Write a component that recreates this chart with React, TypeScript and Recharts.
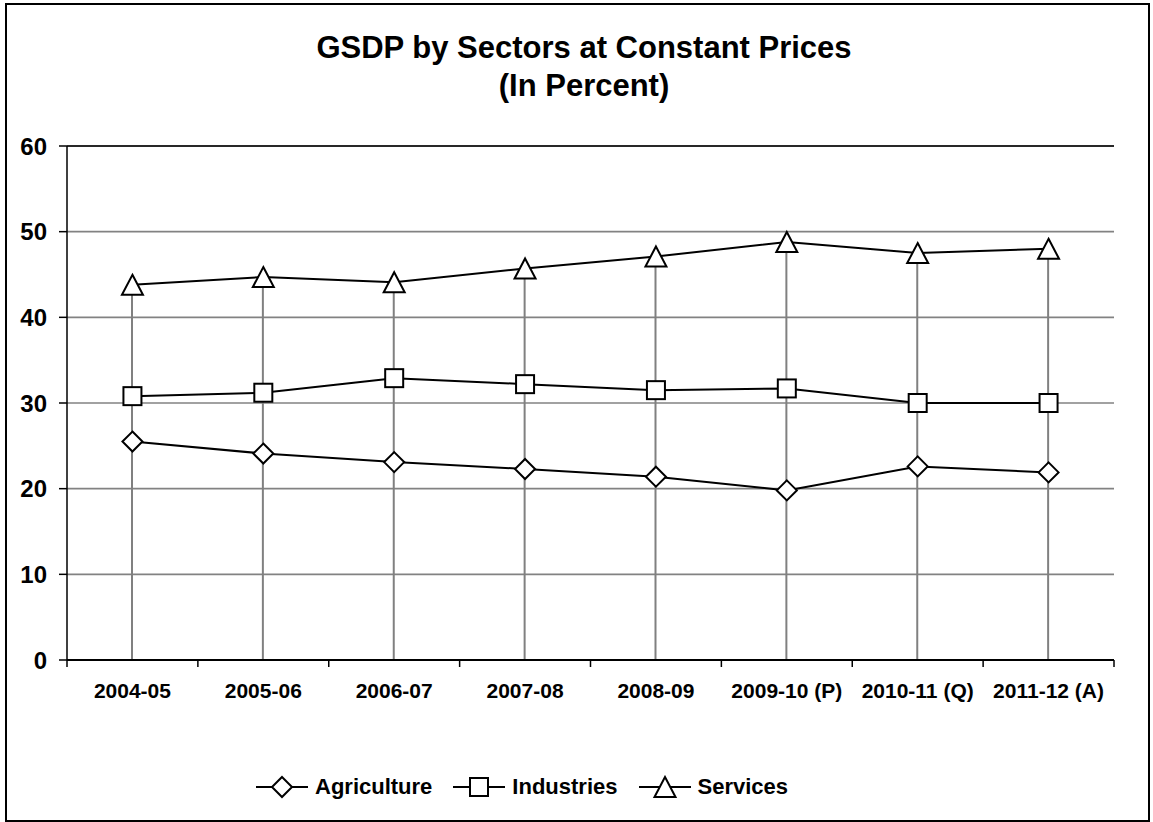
import React from "react"
import { ComposedChart, Line, Bar, XAxis, YAxis, CartesianGrid, ReferenceLine, Legend } from "recharts"

const categories = ["2004-05", "2005-06", "2006-07", "2007-08", "2008-09", "2009-10 (P)", "2010-11 (Q)", "2011-12 (A)"]
const agriculture = [25.5, 24.1, 23.1, 22.3, 21.4, 19.8, 22.6, 21.9]
const industries = [30.8, 31.2, 32.9, 32.2, 31.5, 31.7, 30.0, 30.0]
const services = [43.8, 44.7, 44.1, 45.7, 47.1, 48.8, 47.5, 48.0]
const yTicks = [0, 10, 20, 30, 40, 50, 60]
const seriesNames = ["Agriculture", "Industries", "Services"]

const FONT = '"Liberation Sans", Arial, sans-serif'
const HALF_BAND = (1114 - 67) / categories.length / 2

const data = categories.map((name, i) => ({
  name,
  agriculture: agriculture[i],
  industries: industries[i],
  services: services[i],
  drop: services[i],
}))

type Shape = "diamond" | "square" | "triangle"

function marker(shape: Shape, cx: number, cy: number, key?: any) {
  const common = { fill: "#fff", stroke: "#000", strokeWidth: 2, key }
  if (shape === "diamond")
    return <path {...common} d={`M${cx},${cy - 10}L${cx + 10},${cy}L${cx},${cy + 10}L${cx - 10},${cy}Z`} />
  if (shape === "square") return <rect {...common} x={cx - 9} y={cy - 9} width={18} height={18} />
  return <path {...common} d={`M${cx},${cy - 10}L${cx + 10.5},${cy + 10}L${cx - 10.5},${cy + 10}Z`} />
}

const dotFor = (shape: Shape) => (props: any) => marker(shape, props.cx, props.cy, `${shape}-${props.index}`)

function XTick(props: any) {
  const { x, y, payload, index } = props
  const last = index === categories.length - 1
  return (
    <g>
      <line x1={x - HALF_BAND} x2={x - HALF_BAND} y1={y} y2={y + 7} stroke="#000" strokeWidth={1.5} />
      {last && <line x1={x + HALF_BAND} x2={x + HALF_BAND} y1={y} y2={y + 7} stroke="#000" strokeWidth={1.5} />}
      <text x={x} y={y + 38} textAnchor="middle" fontFamily={FONT} fontWeight="bold" fontSize={21} fill="#000">
        {payload.value}
      </text>
    </g>
  )
}

function LegendContent() {
  const shapes: Shape[] = ["diamond", "square", "triangle"]
  return (
    <div style={{ display: "flex", alignItems: "center", paddingLeft: 256, fontFamily: FONT }}>
      {seriesNames.map((n, i) => (
        <div key={n} style={{ display: "flex", alignItems: "center", marginRight: 21 }}>
          <svg width={52} height={24}>
            <line x1={0} x2={52} y1={12} y2={12} stroke="#000" strokeWidth={2} />
            {marker(shapes[i], 26, 12)}
          </svg>
          <span style={{ marginLeft: 7, fontWeight: "bold", fontSize: 22, color: "#000" }}>{n}</span>
        </div>
      ))}
    </div>
  )
}

export default function App() {
  return (
    <div style={{ position: "relative", width: 1153, height: 822, background: "#fff" }}>
      <style>{`body{margin:0}`}</style>
      <div
        style={{
          position: "absolute",
          left: 5,
          top: 3,
          width: 1145,
          height: 819,
          border: "2px solid #000",
          boxSizing: "border-box",
        }}
      />
      <div
        style={{
          position: "absolute",
          left: 0,
          width: 1168,
          top: 29,
          textAlign: "center",
          fontFamily: FONT,
          fontWeight: "bold",
          fontSize: 31,
          lineHeight: "38px",
          color: "#000",
        }}
      >
        <div>GSDP by Sectors at Constant Prices</div>
        <div>(In Percent)</div>
      </div>
      <div style={{ position: "absolute", left: 0, top: 0 }}>
        <ComposedChart width={1153} height={822} data={data} margin={{ top: 146, right: 39, bottom: 122, left: 0 }}>
          <CartesianGrid vertical={false} stroke="#828282" strokeWidth={1.6} />
          <XAxis
            dataKey="name"
            height={40}
            axisLine={{ stroke: "#000", strokeWidth: 2 }}
            tickLine={false}
            tickSize={0}
            tickMargin={0}
            interval={0}
            tick={<XTick />}
          />
          <YAxis
            domain={[0, 60]}
            ticks={yTicks}
            width={67}
            interval={0}
            axisLine={{ stroke: "#000", strokeWidth: 1.5 }}
            tickLine={{ stroke: "#000", strokeWidth: 1.5 }}
            tickSize={8}
            tickMargin={12}
            tick={{ fontFamily: FONT, fontWeight: "bold", fontSize: 24, fill: "#000" }}
          />
          <YAxis
            yAxisId="right"
            orientation="right"
            domain={[0, 60]}
            width={0}
            tick={false}
            tickLine={false}
            axisLine={{ stroke: "#000", strokeWidth: 1.5 }}
          />
          <ReferenceLine y={60} stroke="#000" strokeWidth={1.5} />
          <Bar dataKey="drop" barSize={2} fill="#808080" isAnimationActive={false} />
          <Line
            dataKey="agriculture"
            name="Agriculture"
            stroke="#000"
            strokeWidth={2}
            dot={dotFor("diamond")}
            activeDot={false}
            isAnimationActive={false}
          />
          <Line
            dataKey="industries"
            name="Industries"
            stroke="#000"
            strokeWidth={2}
            dot={dotFor("square")}
            activeDot={false}
            isAnimationActive={false}
          />
          <Line
            dataKey="services"
            name="Services"
            stroke="#000"
            strokeWidth={2}
            dot={dotFor("triangle")}
            activeDot={false}
            isAnimationActive={false}
          />
          <Legend
            verticalAlign="middle"
            layout="horizontal"
            content={<LegendContent />}
            wrapperStyle={{ top: 774, left: 0, width: 1153 }}
          />
        </ComposedChart>
      </div>
    </div>
  )
}
